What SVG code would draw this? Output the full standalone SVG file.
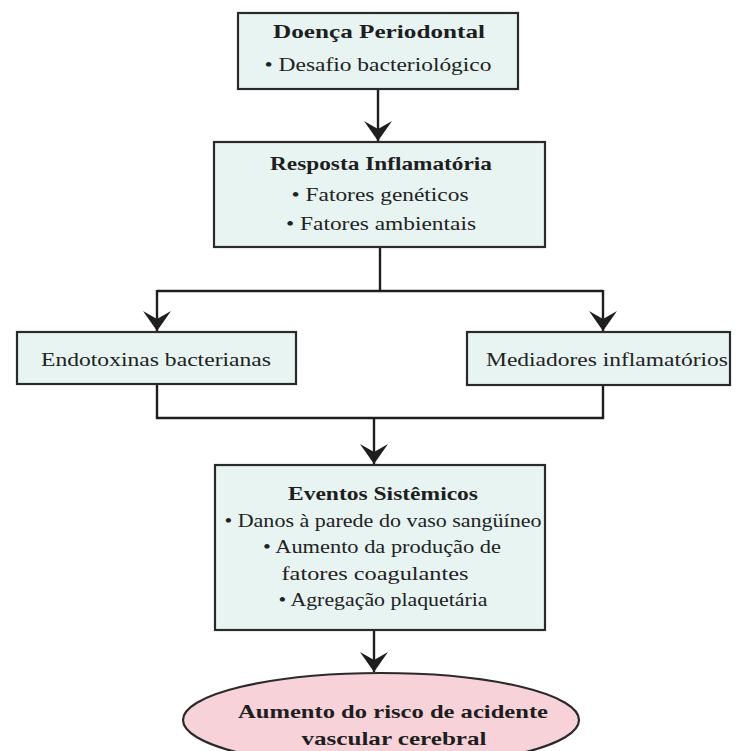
<svg xmlns="http://www.w3.org/2000/svg" width="738" height="751" viewBox="0 0 738 751">
<style>
.box{fill:#e7f4f2;stroke:#2a2a2a;stroke-width:2.2}
.ell{fill:#f7d2d9;stroke:#2a2a2a;stroke-width:2.2}
.t{font-family:"Liberation Serif","Times New Roman",serif;font-size:19px;font-weight:bold;fill:#1e1e1e;text-anchor:middle}
.b{font-family:"Liberation Serif","Times New Roman",serif;font-size:18px;fill:#222;text-anchor:middle}
.c{fill:none;stroke:#1e1e1e;stroke-width:2.4}
</style>
<defs>
<marker id="arr" viewBox="0 0 21 30" refX="20" refY="15" markerWidth="21" markerHeight="30" markerUnits="userSpaceOnUse" orient="auto">
<path d="M20,15 L0,1 L8,15 L0,29 Z" fill="#1e1e1e"/>
</marker>
</defs>
<rect width="738" height="751" fill="#ffffff"/>
<g id="connectors">
<path class="c" d="M378,89 V141" marker-end="url(#arr)"/>
<path class="c" d="M380,247 V291"/>
<path class="c" d="M157,291 H603"/>
<path class="c" d="M157,290 V331" marker-end="url(#arr)"/>
<path class="c" d="M603,290 V331" marker-end="url(#arr)"/>
<path class="c" d="M157,384 V418 H603 V385"/>
<path class="c" d="M374,418 V464" marker-end="url(#arr)"/>
<path class="c" d="M374,630 V672" marker-end="url(#arr)"/>
</g>
<g id="doenca">
<rect class="box" x="238" y="13" width="280" height="76"/>
<text class="t" x="379" y="38" textLength="212" lengthAdjust="spacingAndGlyphs">Doença Periodontal</text>
<text class="b" x="378" y="71" textLength="227" lengthAdjust="spacingAndGlyphs">• Desafio bacteriológico</text>
</g>
<g id="resposta">
<rect class="box" x="214" y="142" width="331" height="105"/>
<text class="t" x="381" y="170" textLength="222" lengthAdjust="spacingAndGlyphs">Resposta Inflamatória</text>
<text class="b" x="380" y="201" textLength="177" lengthAdjust="spacingAndGlyphs">• Fatores genéticos</text>
<text class="b" x="381" y="230" textLength="190" lengthAdjust="spacingAndGlyphs">• Fatores ambientais</text>
</g>
<g id="endotoxinas">
<rect class="box" x="17" y="332" width="279" height="52"/>
<text class="b" x="156" y="366" textLength="230" lengthAdjust="spacingAndGlyphs">Endotoxinas bacterianas</text>
</g>
<g id="mediadores">
<rect class="box" x="467" y="332" width="263" height="53"/>
<text class="b" x="607" y="366" textLength="242" lengthAdjust="spacingAndGlyphs">Mediadores inflamatórios</text>
</g>
<g id="eventos">
<rect class="box" x="215" y="465" width="330" height="165"/>
<text class="t" x="383" y="500" textLength="190" lengthAdjust="spacingAndGlyphs">Eventos Sistêmicos</text>
<text class="b" x="383" y="527" textLength="317" lengthAdjust="spacingAndGlyphs">• Danos à parede do vaso sangüíneo</text>
<text class="b" x="382" y="553" textLength="238" lengthAdjust="spacingAndGlyphs">• Aumento da produção de</text>
<text class="b" x="375" y="580" textLength="187" lengthAdjust="spacingAndGlyphs">fatores coagulantes</text>
<text class="b" x="383" y="606" textLength="209" lengthAdjust="spacingAndGlyphs">• Agregação plaquetária</text>
</g>
<g id="aumento">
<ellipse class="ell" cx="381" cy="720" rx="198" ry="47"/>
<text class="t" x="393" y="718" textLength="310" lengthAdjust="spacingAndGlyphs">Aumento do risco de acidente</text>
<text class="t" x="394" y="745" textLength="185" lengthAdjust="spacingAndGlyphs">vascular cerebral</text>
</g>
</svg>
